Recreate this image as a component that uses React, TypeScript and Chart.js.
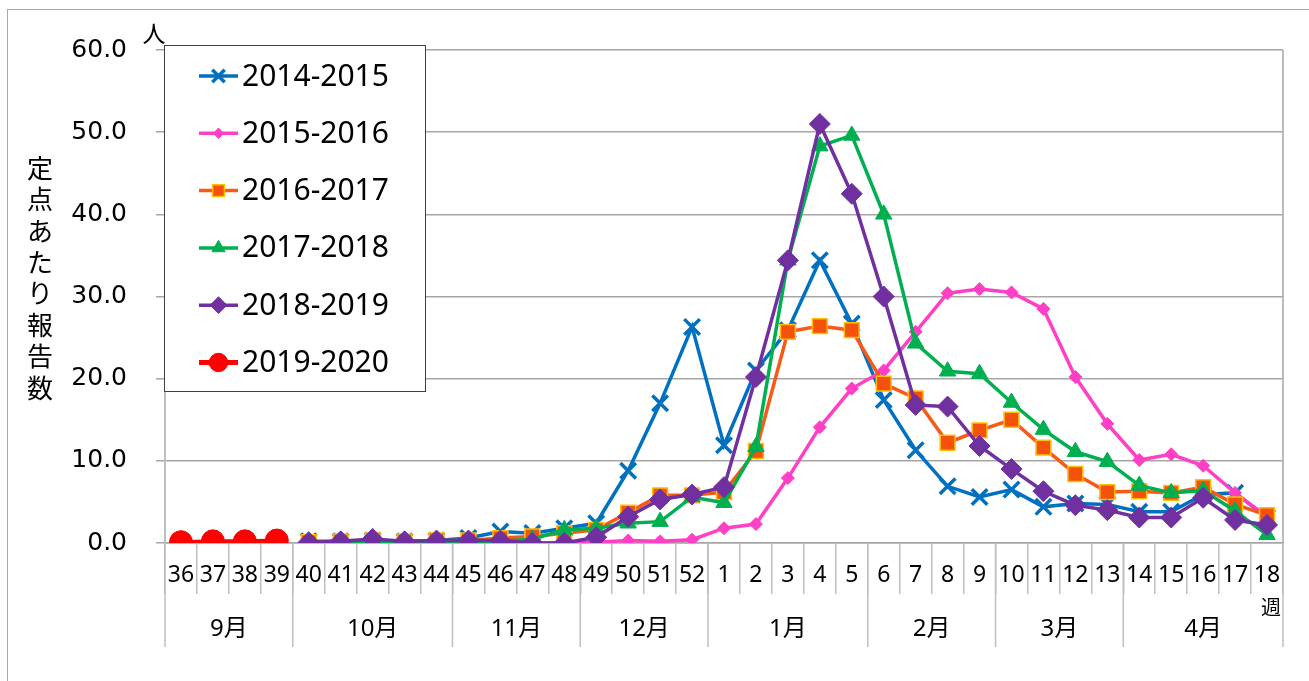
import React, { useEffect, useRef } from 'react';
import { Chart, registerables } from 'chart.js';

Chart.register(...registerables);

const weeks = [
  '36', '37', '38', '39', '40', '41', '42', '43', '44', '45', '46', '47', '48', '49', '50', '51', '52',
  '1', '2', '3', '4', '5', '6', '7', '8', '9', '10', '11', '12', '13', '14', '15', '16', '17', '18',
];
const months = ['9月', '10月', '11月', '12月', '1月', '2月', '3月', '4月'];
const monthSpans = [4, 5, 4, 4, 5, 4, 4, 5];
const yTicks = [0, 10, 20, 30, 40, 50, 60];
const seriesNames = ['2014-2015', '2015-2016', '2016-2017', '2017-2018', '2018-2019', '2019-2020'];

const s2014 = [null, null, null, null,
  0.2, 0.2, 0.3, 0.2, 0.3, 0.6, 1.4, 1.2, 1.8, 2.4, 8.8, 17.0, 26.3,
  11.9, 21.0, 25.9, 34.4, 26.7, 17.4, 11.3, 6.9, 5.6, 6.5, 4.4, 4.8, 4.7, 3.8, 3.8, 5.9, 6.1, 3.1];
const s2015 = [null, null, null, null,
  0.0, 0.0, 0.1, 0.0, 0.0, 0.0, 0.0, 0.0, 0.0, 0.1, 0.3, 0.2, 0.4,
  1.8, 2.3, 7.9, 14.1, 18.8, 21.0, 25.7, 30.4, 30.9, 30.5, 28.5, 20.2, 14.5, 10.1, 10.8, 9.4, 6.1, 3.2];
const s2016 = [null, null, null, null,
  0.1, 0.2, 0.3, 0.2, 0.3, 0.3, 0.6, 0.8, 1.2, 1.6, 3.7, 5.8, 5.8,
  6.2, 11.2, 25.7, 26.4, 25.9, 19.4, 17.6, 12.2, 13.7, 15.0, 11.6, 8.4, 6.2, 6.3, 6.1, 6.8, 4.7, 3.4];
const s2017 = [null, null, null, null,
  0.0, 0.1, 0.1, 0.1, 0.1, 0.2, 0.2, 0.45, 1.6, 1.8, 2.4, 2.6, 5.6,
  4.9, 11.7, 34.4, 48.3, 49.6, 40.0, 24.3, 20.9, 20.6, 17.1, 13.8, 11.1, 9.9, 7.0, 6.1, 6.4, 3.9, 1.0];
const s2018 = [null, null, null, null,
  0.1, 0.2, 0.5, 0.2, 0.3, 0.3, 0.3, 0.0, 0.0, 0.7, 3.2, 5.3, 5.9,
  6.8, 20.2, 34.4, 51.0, 42.5, 30.0, 16.8, 16.6, 11.8, 9.0, 6.3, 4.6, 4.0, 3.1, 3.1, 5.5, 2.8, 2.2];
const s2019 = [0.1, 0.2, 0.2, 0.3];

type Sty = { color: string; fill: string; stroke: string; shape: string; r: number; lw: number; pbw: number; order: number };
const styles: Sty[] = [
  { color: '#0070C0', fill: '#0070C0', stroke: '#0070C0', shape: 'crossRot', r: 11, lw: 3.5, pbw: 3.5, order: 5 },
  { color: '#FF3FC6', fill: '#FF3FC6', stroke: '#FF3FC6', shape: 'rectRot', r: 6.5, lw: 3.5, pbw: 1, order: 4 },
  { color: '#F65A16', fill: '#F4510B', stroke: '#FFC000', shape: 'rect', r: 10.5, lw: 3.5, pbw: 1.5, order: 3 },
  { color: '#00B050', fill: '#00B050', stroke: '#00B050', shape: 'triangle', r: 9.5, lw: 3.5, pbw: 1, order: 2 },
  { color: '#7030A0', fill: '#7030A0', stroke: '#7030A0', shape: 'rectRot', r: 10.5, lw: 3.5, pbw: 1, order: 1 },
  { color: '#FF0000', fill: '#FF0000', stroke: '#FF0000', shape: 'circle', r: 11.5, lw: 4, pbw: 1, order: 0 },
];

function drawMarker(ctx: CanvasRenderingContext2D, shape: string, x: number, y: number, r: number, fill: string, stroke: string, bw: number) {
  ctx.save();
  ctx.fillStyle = fill;
  ctx.strokeStyle = stroke;
  ctx.lineWidth = bw;
  ctx.beginPath();
  if (shape === 'crossRot') {
    const d = r * Math.SQRT1_2;
    ctx.moveTo(x - d, y - d); ctx.lineTo(x + d, y + d);
    ctx.moveTo(x + d, y - d); ctx.lineTo(x - d, y + d);
    ctx.stroke();
  } else if (shape === 'rectRot') {
    ctx.moveTo(x, y - r); ctx.lineTo(x + r, y); ctx.lineTo(x, y + r); ctx.lineTo(x - r, y); ctx.closePath();
    ctx.fill(); ctx.stroke();
  } else if (shape === 'rect') {
    const s = r * Math.SQRT1_2;
    ctx.rect(x - s, y - s, 2 * s, 2 * s);
    ctx.fill(); ctx.stroke();
  } else if (shape === 'triangle') {
    let a = 0;
    ctx.moveTo(x + Math.sin(a) * r, y - Math.cos(a) * r);
    a += (2 * Math.PI) / 3;
    ctx.lineTo(x + Math.sin(a) * r, y - Math.cos(a) * r);
    a += (2 * Math.PI) / 3;
    ctx.lineTo(x + Math.sin(a) * r, y - Math.cos(a) * r);
    ctx.closePath();
    ctx.fill(); ctx.stroke();
  } else {
    ctx.arc(x, y, r, 0, Math.PI * 2);
    ctx.fill(); ctx.stroke();
  }
  ctx.restore();
}

const decor = {
  id: 'decor',
  beforeDraw(chart: any) {
    const ctx = chart.ctx as CanvasRenderingContext2D;
    ctx.save();
    ctx.fillStyle = '#fff';
    ctx.fillRect(0, 0, chart.width, chart.height);
    ctx.strokeStyle = '#a6a6a6';
    ctx.lineWidth = 1;
    ctx.strokeRect(7.5, 9.5, 3000, 3000);
    ctx.restore();
  },
  beforeDatasetsDraw(chart: any) {
    const ctx = chart.ctx as CanvasRenderingContext2D;
    const a = chart.chartArea;
    ctx.save();
    ctx.strokeStyle = '#a6a6a6';
    ctx.lineWidth = 1.5;
    ctx.beginPath();
    ctx.moveTo(a.right, a.top);
    ctx.lineTo(a.right, a.bottom);
    ctx.stroke();
    ctx.restore();
  },
  afterDraw(chart: any) {
    const ctx = chart.ctx as CanvasRenderingContext2D;
    const a = chart.chartArea;
    const xs = chart.scales.x;
    const step = xs.getPixelForValue(1) - xs.getPixelForValue(0);
    const left = xs.getPixelForValue(0) - step / 2;
    ctx.save();
    // month row
    ctx.strokeStyle = '#bfbfbf';
    ctx.lineWidth = 1.5;
    let idx = 0;
    const bounds: number[] = [left];
    monthSpans.forEach((n) => { idx += n; bounds.push(left + idx * step); });
    ctx.beginPath();
    bounds.forEach((bx) => { ctx.moveTo(bx, a.bottom); ctx.lineTo(bx, 647); });
    ctx.stroke();
    ctx.fillStyle = '#000';
    ctx.font = "24px 'Noto Sans', 'Noto Sans CJK JP'";
    ctx.textAlign = 'center';
    ctx.textBaseline = 'middle';
    months.forEach((m, i) => {
      ctx.fillText(m, (bounds[i] + bounds[i + 1]) / 2, 629);
    });
    // 週
    ctx.font = "20px 'Noto Sans CJK JP'";
    ctx.fillText('週', xs.getPixelForValue(weeks.length - 1) + 4, 607);
    // 人
    ctx.font = "23px 'Noto Sans CJK JP'";
    ctx.fillText('人', 154, 33);
    // y title
    ctx.font = "26px 'Noto Sans CJK JP'";
    const title = '定点あたり報告数';
    Array.from(title).forEach((ch, i) => {
      ctx.fillText(ch, 40, 168 + i * 31.4);
    });
    // legend
    ctx.fillStyle = '#fff';
    ctx.fillRect(164.5, 45.5, 261, 346);
    ctx.strokeStyle = '#404040';
    ctx.lineWidth = 1;
    ctx.strokeRect(164.5, 45.5, 261, 346);
    ctx.textAlign = 'left';
    ctx.font = "30px 'Noto Sans'";
    seriesNames.forEach((name, i) => {
      const st = styles[i];
      const y = 76 + i * 57.3;
      ctx.strokeStyle = st.color;
      ctx.lineWidth = i === 5 ? 5 : 3.5;
      ctx.beginPath();
      ctx.moveTo(199, y);
      ctx.lineTo(238, y);
      ctx.stroke();
      drawMarker(ctx, st.shape, 218.5, y, st.r * 0.8, st.fill, st.stroke, st.pbw);
      ctx.fillStyle = '#000';
      ctx.fillText(name, 242, y + 1);
    });
    ctx.restore();
  },
};

export default function App() {
  const ref = useRef<HTMLCanvasElement>(null);
  useEffect(() => {
    document.body.style.margin = '0';
    const all = [s2014, s2015, s2016, s2017, s2018, s2019];
    const datasets = all.map((d, i) => {
      const st = styles[i];
      return {
        label: seriesNames[i],
        data: d,
        borderColor: st.color,
        backgroundColor: st.fill,
        borderWidth: st.lw,
        pointStyle: st.shape,
        pointRadius: st.r,
        pointBackgroundColor: st.fill,
        pointBorderColor: st.stroke,
        pointBorderWidth: st.pbw,
        tension: 0,
        order: st.order,
        spanGaps: false,
      };
    });
    const chart = new Chart(ref.current!, {
      type: 'line',
      data: { labels: weeks, datasets: datasets as any },
      options: {
        animation: false,
        responsive: false,
        devicePixelRatio: 1,
        layout: { padding: { top: 50, right: 26, left: 0, bottom: 0 } },
        plugins: { legend: { display: false }, tooltip: { enabled: false } },
        scales: {
          x: {
            type: 'category',
            offset: true,
            grid: { offset: true, drawOnChartArea: false, drawTicks: true, tickLength: 51, color: '#bfbfbf', lineWidth: 1.5 },
            border: { display: true, color: '#a6a6a6', width: 1.5 },
            ticks: { autoSkip: false, maxRotation: 0, minRotation: 0, color: '#000', padding: -32, font: { family: "'Noto Sans'", size: 23 } },
            afterFit: (s: any) => { s.height = 138; },
          },
          y: {
            min: 0,
            max: 60,
            afterBuildTicks: (s: any) => { s.ticks = yTicks.map((v) => ({ value: v })); },
            ticks: { color: '#000', padding: 29, font: { family: "'DejaVu Sans'", size: 25 }, callback: (v: any) => Number(v).toFixed(1) },
            grid: { color: '#a6a6a6', lineWidth: 1.5, tickLength: 9, drawTicks: true },
            border: { display: true, color: '#bfbfbf', width: 2 },
            afterFit: (s: any) => { s.width = 165; },
          },
        },
      },
      plugins: [decor],
    });
    return () => chart.destroy();
  }, []);
  return (
    <div style={{ width: 1309, height: 681 }}>
      <canvas ref={ref} width={1309} height={681} style={{ width: 1309, height: 681, display: 'block' }} />
    </div>
  );
}
